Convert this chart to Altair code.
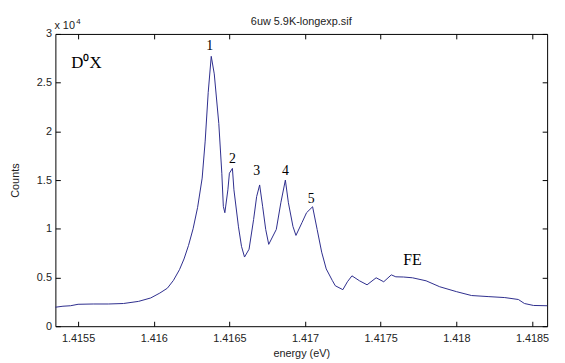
import altair as alt
import pandas as pd

energy = [1.41535, 1.41540, 1.41545, 1.41550, 1.41560, 1.41570, 1.41580, 1.41590, 1.41598, 1.41604,
          1.41609, 1.41613, 1.41617, 1.41620, 1.41623, 1.41626, 1.41629, 1.41632, 1.41634, 1.41636,
          1.41638, 1.41640, 1.41643, 1.41645, 1.41646, 1.41647, 1.41649, 1.41650, 1.41652, 1.41653,
          1.41656, 1.41658, 1.41660, 1.41663, 1.41666, 1.41668, 1.41670, 1.41672, 1.41674, 1.41676,
          1.41681, 1.41684, 1.41687, 1.41689, 1.41692, 1.41694, 1.41698, 1.41701, 1.41705, 1.41708,
          1.41711, 1.41714, 1.41718, 1.41720, 1.41725, 1.41728, 1.41731, 1.41736, 1.41741, 1.41747,
          1.41752, 1.41757, 1.41760, 1.41765, 1.41771, 1.41780, 1.41789, 1.41800, 1.41810, 1.41821,
          1.41832, 1.41841, 1.41845, 1.41851, 1.41860]
counts = [1950, 2050, 2100, 2250, 2280, 2280, 2330, 2550, 2900, 3400,
          3900, 4700, 5800, 6900, 8300, 10000, 12200, 15200, 19000, 24000,
          27700, 25900, 20800, 15700, 12300, 11650, 14000, 15700, 16200, 14000,
          10200, 8200, 7100, 7900, 10950, 13300, 14500, 12260, 9930, 8400,
          9930, 12670, 15000, 12670, 10240, 9320, 10640, 11650, 12260, 9930,
          7600, 5880, 4700, 4150, 3750, 4560, 5170, 4660, 4250, 4970,
          4560, 5270, 5070, 5050, 4970, 4660, 4050, 3550, 3150, 3040,
          2940, 2740, 2330, 2130, 2100]

peak_labels = ["1", "2", "3", "4", "5"]
peak_x = [1.41637, 1.41652, 1.41668, 1.41687, 1.41704]
peak_y = [28380, 16720, 15500, 15500, 12670]

band_labels = ["D⁰X", "FE"]
band_x = [1.415455, 1.41771]
band_y = [26550, 6280]

x_ticks = [1.4155, 1.416, 1.4165, 1.417, 1.4175, 1.418, 1.4185]
y_ticks = [0, 5000, 10000, 15000, 20000, 25000, 30000]

chart_title = "6uw 5.9K-longexp.sif"

df = pd.DataFrame({"energy": energy, "counts": counts})
peaks = pd.DataFrame({"label": peak_labels, "x": peak_x, "y": peak_y})
bands = pd.DataFrame({"label": band_labels, "x": band_x, "y": band_y})

xs = alt.Scale(domain=[1.41535, 1.4186], nice=False, zero=False)
ys = alt.Scale(domain=[0, 30000], nice=False, zero=False)

sans = "Liberation Sans"
serif = "Liberation Serif"

bottom_axis = alt.Axis(orient="bottom", values=x_ticks, format="~g", offset=-5, tickSize=5,
                       domain=False, grid=False, labelPadding=6, labelFont=sans, labelFontSize=11,
                       labelColor="#222", tickColor="black", title="energy (eV)", titleFont=sans,
                       titleFontSize=11, titleFontWeight="normal", titleColor="#222", titlePadding=5)
left_axis = alt.Axis(orient="left", values=y_ticks, labelExpr="'' + datum.value / 10000", offset=-5,
                     tickSize=5, domain=False, grid=False, labelPadding=4, labelFont=sans,
                     labelFontSize=11, labelColor="#222", tickColor="black", title="Counts",
                     titleFont=sans, titleFontSize=11, titleFontWeight="normal", titleColor="#222",
                     titlePadding=16)
top_axis = alt.Axis(orient="top", values=x_ticks, offset=-5, tickSize=5, domain=False, grid=False,
                    labels=False, title=None, tickColor="black")
right_axis = alt.Axis(orient="right", values=y_ticks, offset=-5, tickSize=5, domain=False, grid=False,
                      labels=False, title=None, tickColor="black")

line = alt.Chart(df).mark_line(color="#2c2c8c", strokeWidth=1).encode(
    x=alt.X("energy:Q", scale=xs, axis=bottom_axis),
    y=alt.Y("counts:Q", scale=ys, axis=left_axis),
)
frame = alt.Chart(df).mark_line(opacity=0).encode(
    x=alt.X("energy:Q", scale=xs, axis=top_axis),
    y=alt.Y("counts:Q", scale=ys, axis=right_axis),
)
peak_text = alt.Chart(peaks).mark_text(font=serif, fontSize=14, baseline="alphabetic",
                                        align="center", color="black").encode(
    x=alt.X("x:Q", scale=xs, axis=None), y=alt.Y("y:Q", scale=ys, axis=None), text="label:N")
band_left = alt.Chart(bands.iloc[[0]]).mark_text(font=serif, fontSize=17, baseline="alphabetic",
                                                 align="left", color="black").encode(
    x=alt.X("x:Q", scale=xs, axis=None), y=alt.Y("y:Q", scale=ys, axis=None), text="label:N")
band_center = alt.Chart(bands.iloc[[1]]).mark_text(font=serif, fontSize=16, baseline="alphabetic",
                                                   align="center", color="black").encode(
    x=alt.X("x:Q", scale=xs, axis=None), y=alt.Y("y:Q", scale=ys, axis=None), text="label:N")

title_text = alt.Chart(pd.DataFrame({"t": [chart_title]})).mark_text(
    font=sans, fontSize=11, align="center", baseline="alphabetic", color="#222").encode(
    x=alt.value(249), y=alt.value(-9), text="t:N")
exp_base = alt.Chart(pd.DataFrame({"t": ["x 10"]})).mark_text(
    font=sans, fontSize=11, align="left", baseline="alphabetic", color="#222").encode(
    x=alt.value(-1), y=alt.value(-5), text="t:N")
exp_sup = alt.Chart(pd.DataFrame({"t": ["4"]})).mark_text(
    font=sans, fontSize=8, align="left", baseline="alphabetic", color="#222").encode(
    x=alt.value(21), y=alt.value(-10), text="t:N")

chart = alt.layer(line, frame, peak_text, band_left, band_center,
                  title_text, exp_base, exp_sup).properties(
    width=498, height=296,
    autosize=alt.AutoSizeParams(type="none"),
    padding={"left": 48, "top": 24, "right": 10, "bottom": 35},
    background="white",
).configure_view(stroke="black", strokeWidth=1)

chart.save("out.html", embed_options={"renderer": "svg", "actions": False})
